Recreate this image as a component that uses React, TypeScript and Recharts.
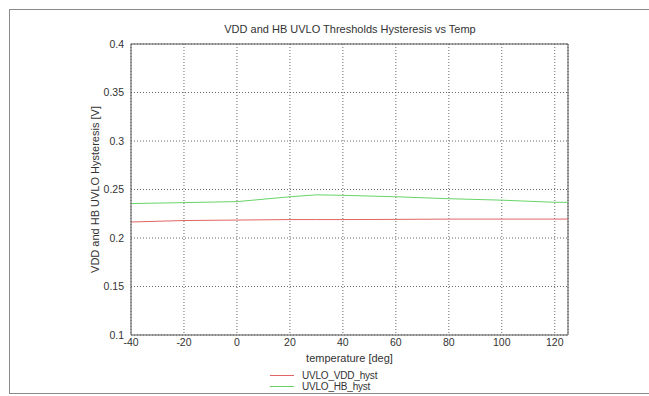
import { CartesianGrid, Label, Legend, Line, LineChart, ReferenceLine, XAxis, YAxis } from "recharts";

const temps = [-40, -20, 0, 20, 30, 40, 60, 80, 100, 120, 125];
const vddHyst = [0.2165, 0.218, 0.2185, 0.219, 0.219, 0.219, 0.2192, 0.2195, 0.2195, 0.2195, 0.2195];
const hbHyst = [0.2355, 0.2365, 0.2375, 0.2425, 0.2445, 0.244, 0.2425, 0.2405, 0.239, 0.2368, 0.2368];
const xTicks = [-40, -20, 0, 20, 40, 60, 80, 100, 120];
const yTicks = [0.1, 0.15, 0.2, 0.25, 0.3, 0.35, 0.4];
const seriesNames = ["UVLO_VDD_hyst", "UVLO_HB_hyst"];
const seriesColors = ["#e26464", "#68d468"];

const data = temps.map((t, i) => ({ t, vdd: vddHyst[i], hb: hbHyst[i] }));

const FONT = "'Liberation Sans', Arial, sans-serif";
const tickStyle = { fontSize: 10.5, fill: "#333", fontFamily: FONT };

const LegendBox = () => (
  <div style={{ fontFamily: FONT, fontSize: 10, color: "#333" }}>
    {seriesNames.map((name, i) => (
      <div key={name} style={{ display: "flex", alignItems: "center", height: 11, lineHeight: "11px" }}>
        <svg width={24} height={11} style={{ marginRight: 8 }}>
          <line x1={0} y1={5.5} x2={24} y2={5.5} stroke={seriesColors[i]} strokeWidth={1} />
        </svg>
        <span style={{ letterSpacing: -0.2 }}>{name}</span>
      </div>
    ))}
  </div>
);

export default function App() {
  return (
    <div style={{ position: "absolute", left: 0, top: 0, width: 649, height: 396, background: "#fff", overflow: "hidden" }}>
      <div
        style={{
          position: "absolute",
          left: 9,
          top: 9,
          width: 700,
          height: 383,
          border: "1px solid #8a8a8a",
        }}
      />
      <div
        style={{
          position: "absolute",
          top: 23,
          left: 150,
          width: 400,
          textAlign: "center",
          fontFamily: FONT,
          fontSize: 11,
          color: "#333",
        }}
      >
        VDD and HB UVLO Thresholds Hysteresis vs Temp
      </div>
      <LineChart
        width={649}
        height={396}
        data={data}
        margin={{ top: 44, right: 81, bottom: 41, left: 71 }}
        style={{ position: "absolute", left: 0, top: 0 }}
      >
        <CartesianGrid stroke="#444" strokeDasharray="1 2" strokeWidth={0.8} />
        <XAxis
          dataKey="t"
          type="number"
          domain={[-40, 125]}
          ticks={xTicks}
          allowDataOverflow
          height={20}
          tickSize={0}
          tickMargin={4}
          tick={tickStyle}
          axisLine={{ stroke: "#555" }}
        >
          <Label value="temperature [deg]" position="bottom" offset={-1} style={{ fontSize: 11, fill: "#333", fontFamily: FONT }} />
        </XAxis>
        <YAxis
          type="number"
          domain={[0.1, 0.4]}
          ticks={yTicks}
          width={60}
          tickSize={0}
          tickMargin={7}
          tick={tickStyle}
          axisLine={{ stroke: "#555" }}
        >
          <Label
            value="VDD and HB UVLO Hysteresis [V]"
            angle={-90}
            position="insideLeft"
            offset={24}
            style={{ textAnchor: "middle", fontSize: 11, fill: "#333", fontFamily: FONT }}
          />
        </YAxis>
        <ReferenceLine x={125} stroke="#555" />
        <ReferenceLine y={0.4} stroke="#555" />
        <Line dataKey="vdd" name={seriesNames[0]} stroke={seriesColors[0]} strokeWidth={1} dot={false} isAnimationActive={false} />
        <Line dataKey="hb" name={seriesNames[1]} stroke={seriesColors[1]} strokeWidth={1} dot={false} isAnimationActive={false} />
        <Legend
          layout="vertical"
          align="center"
          verticalAlign="middle"
          content={<LegendBox />}
          wrapperStyle={{ top: 370, left: 270, width: 140 }}
        />
      </LineChart>
    </div>
  );
}
